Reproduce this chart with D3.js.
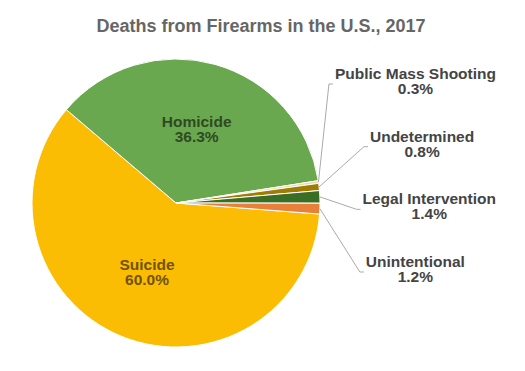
<!DOCTYPE html>
<meta charset="utf-8">
<head>
<title>Deaths from Firearms</title>
<script src="https://d3js.org/d3.v7.min.js"></script>
<style>
  body { margin: 0; background: #fff; }
  text { font-family: "Liberation Sans", Arial, sans-serif; font-weight: bold; }
</style>
</head>
<body>
<div id="chart"></div>
<script>
    let categories = ["Suicide", "Homicide", "Public Mass Shooting", "Undetermined", "Legal Intervention", "Unintentional"];
    let shares = [60.0, 36.3, 0.3, 0.8, 1.4, 1.2];
    let colors = ["#fbbc04", "#6aa84f", "#e9dca4", "#a07c05", "#3a6e24", "#e8803a"];

    let w = 525;
    let h = 371;
    let cx = 176, cy = 203, r = 144;

    let svg = d3.select("#chart")
                .append("svg")
                .attr("width", w)
                .attr("height", h)

    svg.append("text")
       .attr("x", 261)
       .attr("y", 32)
       .attr("text-anchor", "middle")
       .style("font-size", "18px")
       .style("fill", "#666")
       .text("Deaths from Firearms in the U.S., 2017")

    let data = categories.map((c, i) => ({name: c, value: shares[i], color: colors[i]}));

    // pie is rotated so the suicide slice starts just below 3 o'clock
    let start = 94.4 * Math.PI / 180;
    let pie = d3.pie().sort(null).value((d) => d.value)
                .startAngle(start).endAngle(start + 2 * Math.PI);
    let arcs = pie(data);

    let arc = d3.arc().innerRadius(0).outerRadius(r);
    let labelArc = d3.arc().innerRadius(76).outerRadius(76);
    let edgeArc = d3.arc().innerRadius(r).outerRadius(r);

    let g = svg.append("g").attr("transform", "translate(" + cx + "," + cy + ")");

    g.selectAll("path")
     .data(arcs)
     .enter()
     .append("path")
     .attr("d", arc)
     .style("fill", (d) => d.data.color)
     .style("stroke", "white")
     .style("stroke-width", 1)

    let fmt = (v) => d3.format(".1f")(v) + "%";

    // big slices: labels inside
    let big = arcs.filter((d) => d.data.value > 5);
    big.forEach((d) => {
        let c = labelArc.centroid(d);
        let t = g.append("text")
                 .attr("text-anchor", "middle")
                 .style("font-size", "15.5px")
                 .style("fill", d3.color(d.data.color).darker(2.3))
        t.append("tspan").attr("x", c[0]).attr("y", c[1] - 3).text(d.data.name)
        t.append("tspan").attr("x", c[0]).attr("y", c[1] + 12).text(fmt(d.data.value))
    });

    // small slices: labels in a column on the right with leader lines
    let small = arcs.filter((d) => d.data.value <= 5);
    let ly = d3.scalePoint().domain(small.map((d) => d.data.name)).range([79, 267]);
    let labelR = 202, maxRight = 496;

    small.forEach((d) => {
        let y = ly(d.data.name);
        let t = svg.append("text")
                   .attr("text-anchor", "middle")
                   .style("font-size", "15.5px")
                   .style("fill", "#444")
        let t1 = t.append("tspan").attr("y", y).text(d.data.name)
        let t2 = t.append("tspan").attr("y", y + 15).text(fmt(d.data.value))
        let tw = t1.node().getComputedTextLength();
        let lineY = y + 5;
        let dy = lineY - cy;
        let left = Math.min(cx + Math.sqrt(labelR * labelR - dy * dy), maxRight - tw);
        t1.attr("x", left + tw / 2);
        t2.attr("x", left + tw / 2);

        let p = edgeArc.centroid(d);
        let pts = [[cx + p[0], cy + p[1]], [left - 6, lineY], [left - 2, lineY]];
        svg.append("path")
           .attr("d", d3.line()(pts))
           .style("fill", "none")
           .style("stroke", "#aaa")
           .style("stroke-width", 1)
    });
</script>
</body>
